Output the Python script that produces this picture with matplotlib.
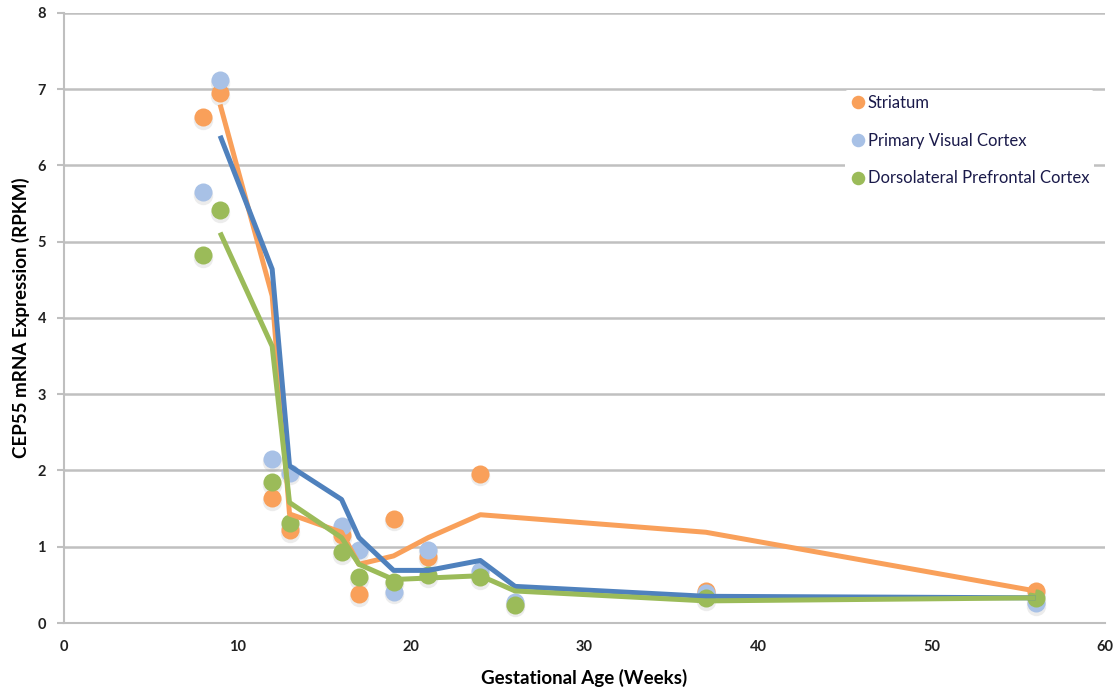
import matplotlib.pyplot as plt

plt.rcParams['font.family'] = ['Lato', 'DejaVu Sans']

# Points (weeks, RPKM)
str_x = [8, 9, 12, 13, 16, 17, 19, 21, 24, 37, 56]
str_y = [6.63, 6.95, 1.64, 1.22, 1.15, 0.38, 1.37, 0.87, 1.96, 0.42, 0.42]
v1_x = [8, 9, 12, 13, 16, 17, 19, 21, 24, 26, 37, 56]
v1_y = [5.65, 7.12, 2.15, 1.97, 1.27, 0.96, 0.41, 0.96, 0.68, 0.28, 0.40, 0.26]
dlpfc_x = [8, 9, 12, 13, 16, 17, 19, 21, 24, 26, 37, 56]
dlpfc_y = [4.82, 5.41, 1.85, 1.31, 0.93, 0.60, 0.54, 0.63, 0.60, 0.24, 0.33, 0.33]

# Trend lines (2-period moving average)
str_tx = [9, 12, 13, 16, 17, 19, 21, 24, 37, 56]
str_ty = [6.80, 4.29, 1.43, 1.19, 0.77, 0.88, 1.12, 1.42, 1.19, 0.42]
v1_tx = [9, 12, 13, 16, 17, 19, 21, 24, 26, 37, 56]
v1_ty = [6.39, 4.64, 2.06, 1.62, 1.12, 0.69, 0.69, 0.82, 0.48, 0.35, 0.33]
dlpfc_tx = [9, 12, 13, 16, 17, 19, 21, 24, 26, 37, 56]
dlpfc_ty = [5.12, 3.63, 1.58, 1.12, 0.77, 0.57, 0.59, 0.62, 0.42, 0.29, 0.33]

fig = plt.figure(figsize=(11.2, 6.94), dpi=100)
ax = fig.add_axes([0.0571, 0.1023, 0.9295, 0.879])

series = [
    ("Striatum", str_x, str_y, str_tx, str_ty, "#F9A05A", "#F9A05A"),
    ("Primary Visual Cortex", v1_x, v1_y, v1_tx, v1_ty, "#A8C1E6", "#4F81BD"),
    ("Dorsolateral Prefrontal Cortex", dlpfc_x, dlpfc_y, dlpfc_tx, dlpfc_ty, "#9BBB59", "#9BBB59"),
]

# markers with a soft shadow
for name, x, y, tx, ty, mc, lc in series:
    ax.plot(x, [v - 0.035 for v in y], 'o', ms=14, color='#999999', alpha=0.18, mec='none', zorder=2)
    ax.plot(x, y, 'o', ms=13, color=mc, mec='none', zorder=3, label=name)
for name, x, y, tx, ty, mc, lc in series:
    ax.plot(tx, ty, '-', color=lc, lw=3.6, zorder=4, solid_capstyle='butt')

ax.set_xlim(0, 60)
ax.set_ylim(0, 8)
ax.set_xticks(range(0, 61, 10))
ax.set_yticks(range(0, 9))
ax.grid(axis='y', color='#C0C0C0', lw=1.8)
ax.set_axisbelow(True)
for s in ['top', 'right']:
    ax.spines[s].set_visible(False)
for s in ['left', 'bottom']:
    ax.spines[s].set_color('#BFBFBF')
    ax.spines[s].set_linewidth(1.5)
ax.tick_params(axis='y', length=5, color='#BFBFBF', width=1.5, labelsize=10.5, pad=8)
ax.tick_params(axis='x', length=0, labelsize=10.5, pad=12)
for lab in ax.get_xticklabels() + ax.get_yticklabels():
    lab.set_fontweight('bold')
    lab.set_color('#222222')

ax.set_xlabel("Gestational Age (Weeks)", fontsize=13.5, fontweight='bold', labelpad=11)
ax.set_ylabel("CEP55 mRNA Expression (RPKM)", fontsize=13.5, fontweight='bold')
ax.yaxis.set_label_coords(-0.033, 0.5)

leg = fig.legend(loc='upper left', bbox_to_anchor=(845 / 1120, 1 - 90 / 694), frameon=True,
                 framealpha=1, edgecolor='none', fontsize=12, markerscale=0.75,
                 handletextpad=0.05, labelspacing=1.3, borderpad=0.3, handlelength=1.0,
                 borderaxespad=0)
for t in leg.get_texts():
    t.set_color('#1a1a4a')

fig.savefig("out.png", dpi=100)
